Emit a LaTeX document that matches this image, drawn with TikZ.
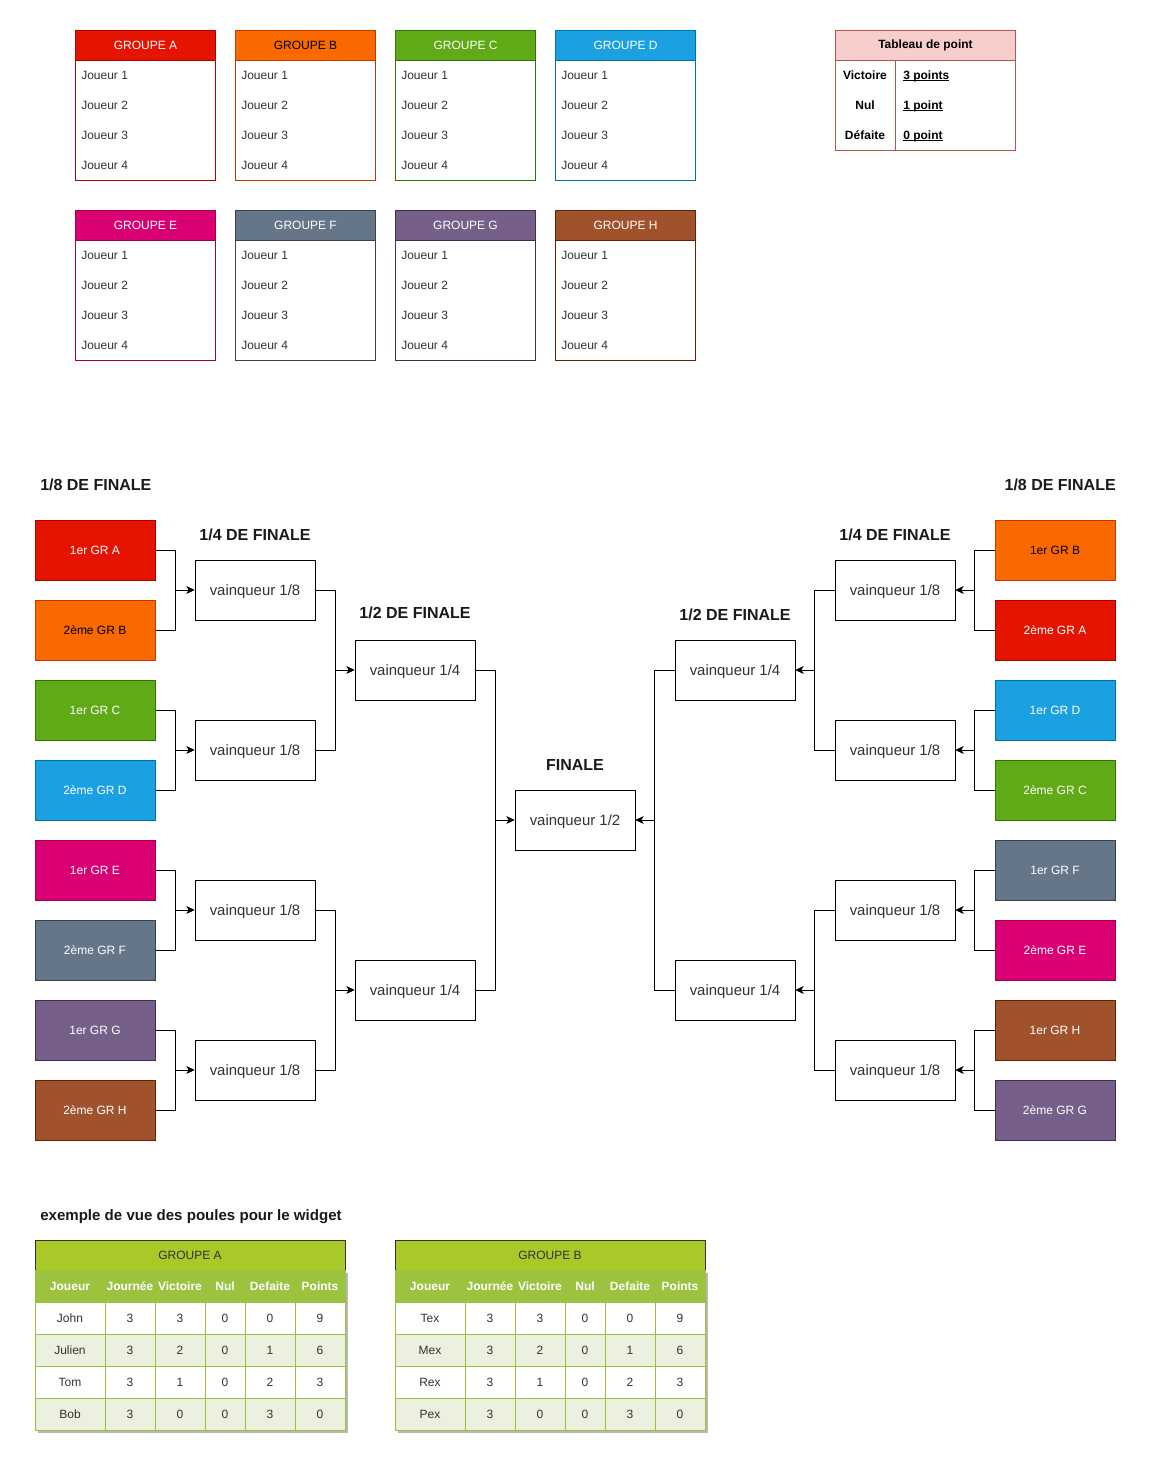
\documentclass[tikz,border=0pt]{standalone}
\usepackage{fontspec}
\setmainfont{Liberation Sans}
\usetikzlibrary{calc,arrows.meta}

\definecolor{grA}{HTML}{E51400}\definecolor{grAs}{HTML}{B20000}
\definecolor{grB}{HTML}{FA6800}\definecolor{grBs}{HTML}{C73500}
\definecolor{grC}{HTML}{60A917}\definecolor{grCs}{HTML}{2D7600}
\definecolor{grD}{HTML}{1BA1E2}\definecolor{grDs}{HTML}{006EAF}
\definecolor{grE}{HTML}{D80073}\definecolor{grEs}{HTML}{A50040}
\definecolor{grF}{HTML}{647687}\definecolor{grFs}{HTML}{314354}
\definecolor{grG}{HTML}{76608A}\definecolor{grGs}{HTML}{432D57}
\definecolor{grH}{HTML}{A0522D}\definecolor{grHs}{HTML}{6D1F00}
\definecolor{ptfill}{HTML}{F8CECC}\definecolor{ptstroke}{HTML}{B85450}
\definecolor{txt}{HTML}{333333}
\definecolor{lime}{HTML}{A8C928}
\definecolor{colgreen}{HTML}{9BC33F}
\definecolor{gridgreen}{HTML}{9AC13D}
\definecolor{altrow}{HTML}{EBF1DE}
\definecolor{shadowc}{HTML}{B8B8B8}

\newcommand\fsz[1]{\fontsize{#1}{#1}\selectfont}
\newcommand\ulin[1]{\setbox0\hbox{#1}\rlap{\rule[-1.4pt]{\wd0}{0.6pt}}\box0}

\newcommand\whead[2]{%
  \fill[shadowc] (#2+3,1273) rectangle (#2+313,1433);
  \node[thead, minimum width=232.5pt] (t#1h) at (#2+155,1255) {GROUPE #1};
  \node[tcolh, minimum width=52.5pt] (t#1c1) at (#2+35,1286) {Joueur};
  \node[tcolh, minimum width=37.5pt] (t#1c2) at (#2+95,1286) {Journée};
  \node[tcolh, minimum width=37.5pt] (t#1c3) at (#2+145,1286) {Victoire};
  \node[tcolh, minimum width=30pt] (t#1c4) at (#2+190,1286) {Nul};
  \node[tcolh, minimum width=37.5pt] (t#1c5) at (#2+235,1286) {Defaite};
  \node[tcolh, minimum width=37.5pt] (t#1c6) at (#2+285,1286) {Points};
}
\newcommand\wrow[9]{%
  \pgfmathsetmacro\ry{1318+32*(#3-1)}%
  \ifodd#3 \def\rf{white}\else\def\rf{altrow}\fi
  \node[tcell, fill=\rf, minimum width=52.5pt] (t#1r#3c1) at (#2+35,\ry) {#4};
  \node[tcell, fill=\rf, minimum width=37.5pt] (t#1r#3c2) at (#2+95,\ry) {#5};
  \node[tcell, fill=\rf, minimum width=37.5pt] (t#1r#3c3) at (#2+145,\ry) {#6};
  \node[tcell, fill=\rf, minimum width=30pt] (t#1r#3c4) at (#2+190,\ry) {#7};
  \node[tcell, fill=\rf, minimum width=37.5pt] (t#1r#3c5) at (#2+235,\ry) {#8};
  \node[tcell, fill=\rf, minimum width=37.5pt] (t#1r#3c6) at (#2+285,\ry) {#9};
}

\begin{document}
\begin{tikzpicture}[x=0.75pt,y=-0.75pt,
  every node/.style={inner sep=0pt, font=\fsz{9}},
  grphdr/.style={rectangle, minimum width=105pt, minimum height=22.5pt, line width=0.75pt},
  grpbody/.style={rectangle, minimum width=105pt, minimum height=90pt, line width=0.75pt, fill=white},
  seed/.style={rectangle, minimum width=90pt, minimum height=45pt, line width=0.75pt},
  win/.style={rectangle, draw=black, fill=white, minimum width=90pt, minimum height=45pt, line width=0.75pt, text=txt, font=\fsz{11.2}, text depth=0pt},
  ttl/.style={font=\bfseries\fsz{12}, text=black!90},
  ptxt/.style={text=black, font=\bfseries\fsz{9}},
  conn/.style={line width=0.75pt, -{Stealth[length=6pt,width=5.5pt,inset=1.8pt]}},
  thead/.style={rectangle, draw=black!80, fill=lime, minimum height=22.5pt, line width=0.75pt, text=txt},
  tcolh/.style={rectangle, draw=gridgreen, fill=colgreen, minimum height=24pt, line width=0.75pt, text=white, font=\bfseries\fsz{9}},
  tcell/.style={rectangle, draw=gridgreen, minimum height=24pt, line width=0.75pt, text=txt}
]
\useasboundingbox (0,0) rectangle (1155,1465);

% ---- group tables
\foreach \g/\tc/\x/\y in {A/white/75/30, B/black/235/30, C/white/395/30, D/white/555/30,
                           E/white/75/210, F/white/235/210, G/white/395/210, H/white/555/210}{
  \node[grpbody, draw=gr\g s, anchor=north west] (b\g) at (\x,\y+30) {};
  \node[grphdr, fill=gr\g, draw=gr\g s, text=\tc, anchor=north west] (h\g) at (\x,\y) {GROUPE \g};
  \foreach \i in {1,...,4}
    \node[anchor=west, text=txt] (j\g\i) at (\x+6,\y+30*\i+15) {Joueur \i};
}

% ---- point table
\node[grphdr, ptxt, minimum width=135pt, fill=ptfill, draw=ptstroke, anchor=north west] (pth) at (835,30) {Tableau de point};
\node[grpbody, minimum width=135pt, minimum height=67.5pt, draw=ptstroke, anchor=north west] (ptb) at (835,60) {};
\draw[ptstroke, line width=0.75pt] ($(ptb.north west)+(60,0)$) -- ($(ptb.south west)+(60,0)$);
\node[ptxt, anchor=base] (ptl1) at (865,79.3) {Victoire};
\node[ptxt, anchor=base] (ptl2) at (865,109.3) {Nul};
\node[ptxt, anchor=base] (ptl3) at (865,139.3) {Défaite};
\node[ptxt, anchor=base west] (ptr1) at (903,79.3) {\ulin{3 points}};
\node[ptxt, anchor=base west] (ptr2) at (903,109.3) {\ulin{1 point}};
\node[ptxt, anchor=base west] (ptr3) at (903,139.3) {\ulin{0 point}};

% ---- bracket titles
\node[ttl, anchor=west] (t8l) at (40,485) {1/8 DE FINALE};
\node[ttl, anchor=east] (t8r) at (1116,485) {1/8 DE FINALE};
\node[ttl] (t4l) at (255,535) {1/4 DE FINALE};
\node[ttl] (t4r) at (895,535) {1/4 DE FINALE};
\node[ttl] (t2l) at (415,613) {1/2 DE FINALE};
\node[ttl] (t2r) at (735,615) {1/2 DE FINALE};
\node[ttl] (tf) at (575,765) {FINALE};

% ---- seeds
\foreach \i/\lab/\c/\tc in {1/1er GR A/A/white, 2/2ème GR B/B/black, 3/1er GR C/C/white, 4/2ème GR D/D/white,
                            5/1er GR E/E/white, 6/2ème GR F/F/white, 7/1er GR G/G/white, 8/2ème GR H/H/white}
  \node[seed, fill=gr\c, draw=gr\c s, text=\tc] (L\i) at (95,470+80*\i) {\lab};
\foreach \i/\lab/\c/\tc in {1/1er GR B/B/black, 2/2ème GR A/A/white, 3/1er GR D/D/white, 4/2ème GR C/C/white,
                            5/1er GR F/F/white, 6/2ème GR E/E/white, 7/1er GR H/H/white, 8/2ème GR G/G/white}
  \node[seed, fill=gr\c, draw=gr\c s, text=\tc] (R\i) at (1055,470+80*\i) {\lab};

% ---- winners
\foreach \i in {1,...,4}{
  \node[win] (LE\i) at (255,430+160*\i) {vainqueur 1/8};
  \node[win] (RE\i) at (895,430+160*\i) {vainqueur 1/8};
}
\foreach \i in {1,2}{
  \node[win] (LQ\i) at (415,350+320*\i) {vainqueur 1/4};
  \node[win] (RQ\i) at (735,350+320*\i) {vainqueur 1/4};
}
\node[win] (F) at (575,820) {vainqueur 1/2};

% ---- connectors
\foreach \i in {1,...,4}{
  \pgfmathtruncatemacro\a{2*\i-1}
  \pgfmathtruncatemacro\b{2*\i}
  \draw[conn] (L\a.east) -- ++(20,0) |- (LE\i.west);
  \draw[conn] (L\b.east) -- ++(20,0) |- (LE\i.west);
  \draw[conn] (R\a.west) -- ++(-20,0) |- (RE\i.east);
  \draw[conn] (R\b.west) -- ++(-20,0) |- (RE\i.east);
}
\foreach \i in {1,2}{
  \pgfmathtruncatemacro\a{2*\i-1}
  \pgfmathtruncatemacro\b{2*\i}
  \draw[conn] (LE\a.east) -- ++(20,0) |- (LQ\i.west);
  \draw[conn] (LE\b.east) -- ++(20,0) |- (LQ\i.west);
  \draw[conn] (RE\a.west) -- ++(-20,0) |- (RQ\i.east);
  \draw[conn] (RE\b.west) -- ++(-20,0) |- (RQ\i.east);
  \draw[conn] (LQ\i.east) -- ++(20,0) |- (F.west);
  \draw[conn] (RQ\i.west) -- ++(-20,0) |- (F.east);
}

% ---- widget example
\node[anchor=west, font=\bfseries\fsz{11.3}, text=black!90] (wt) at (40,1217) {exemple de vue des poules pour le widget};
\whead{A}{35}
\wrow{A}{35}{1}{John}{3}{3}{0}{0}{9}
\wrow{A}{35}{2}{Julien}{3}{2}{0}{1}{6}
\wrow{A}{35}{3}{Tom}{3}{1}{0}{2}{3}
\wrow{A}{35}{4}{Bob}{3}{0}{0}{3}{0}
\whead{B}{395}
\wrow{B}{395}{1}{Tex}{3}{3}{0}{0}{9}
\wrow{B}{395}{2}{Mex}{3}{2}{0}{1}{6}
\wrow{B}{395}{3}{Rex}{3}{1}{0}{2}{3}
\wrow{B}{395}{4}{Pex}{3}{0}{0}{3}{0}
\end{tikzpicture}
\end{document}
